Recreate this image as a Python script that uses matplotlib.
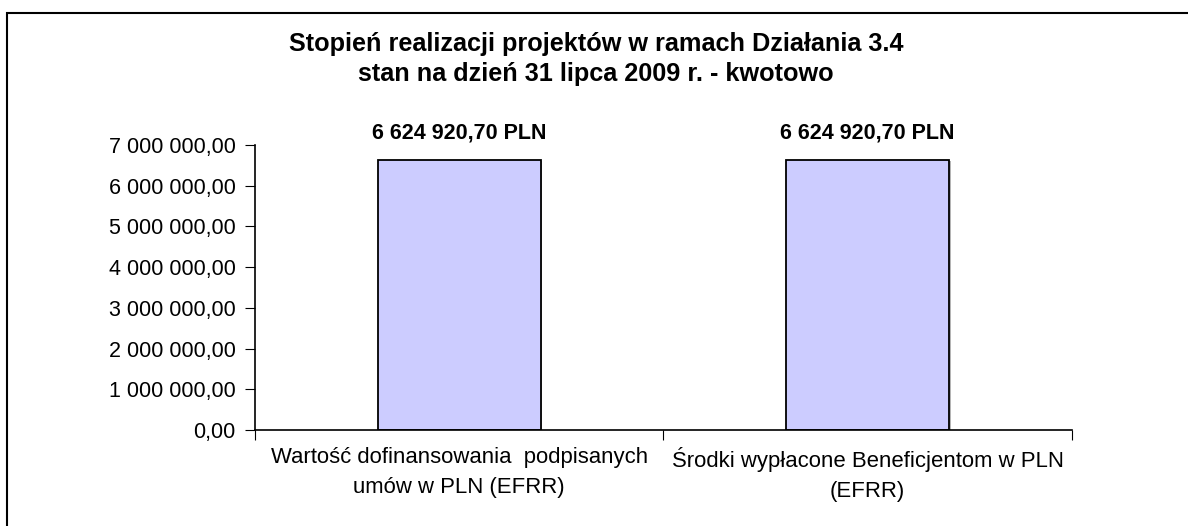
import matplotlib.pyplot as plt
from matplotlib.patches import Rectangle
import numpy as np

plt.rcParams['font.family'] = ['Liberation Sans', 'DejaVu Sans']

categories = ["Wartość dofinansowania  podpisanych\numów w PLN (EFRR)",
              "Środki wypłacone Beneficjentom w PLN\n(EFRR)"]
values = [6624920.70, 6624920.70]
y_ticks = [0, 1e6, 2e6, 3e6, 4e6, 5e6, 6e6, 7e6]


def pl_format(v):
    s = f"{v:,.2f}"
    return s.replace(",", " ").replace(".", ",")


fig = plt.figure(figsize=(11.88, 5.26), dpi=100)
fig.patch.set_facecolor("white")

# outer chart frame (clipped at right/bottom like the source)
fig.patches.append(Rectangle((7 / 1188, -0.1), 1.2, (526 - 13) / 526 + 0.1,
                             transform=fig.transFigure, fill=False,
                             edgecolor="black", linewidth=1.5))

ax = fig.add_axes([255 / 1188, 96 / 526, 816.7 / 1188, 285 / 526])
x = np.arange(len(categories))
# thin drop shadow
ax.bar(x + 0.004, values, width=0.4, bottom=-0.01e6, color="#b4b4b4", edgecolor="none", zorder=1)
ax.bar(x, values, width=0.4, color="#ccccff", edgecolor="black", linewidth=1.3, zorder=2)

for xi, v in zip(x, values):
    ax.annotate(pl_format(v) + " PLN", (xi, v), xytext=(0, 12), textcoords="offset points",
                ha="center", va="bottom", fontsize=15.5, fontweight="bold")

ax.set_xlim(-0.5, 1.5)
ax.set_ylim(0, 7e6)
ax.set_yticks(y_ticks)
ax.set_yticklabels([pl_format(t) for t in y_ticks], fontsize=15.5)
ax.set_xticks([-0.5, 0.5, 1.5], minor=False)
ax.set_xticklabels([])
ax.set_xticks(x, minor=True)
ax.set_xticklabels(categories, minor=True, fontsize=15.9, linespacing=1.6)
ax.tick_params(axis="x", which="minor", length=0, pad=12)
ax.tick_params(axis="x", which="major", length=7, direction="out")
ax.tick_params(axis="y", length=7, direction="out", pad=7)
for side in ["top", "right"]:
    ax.spines[side].set_visible(False)
for side in ["left", "bottom"]:
    ax.spines[side].set_linewidth(1.2)

fig.text(596 / 1188, 1 - 51 / 526, "Stopień realizacji projektów w ramach Działania 3.4",
         ha="center", va="baseline", fontsize=18.2, fontweight="bold")
fig.text(596 / 1188, 1 - 81 / 526, "stan na dzień 31 lipca 2009 r. - kwotowo",
         ha="center", va="baseline", fontsize=18.2, fontweight="bold")

fig.savefig("out.png", dpi=100, facecolor="white")
